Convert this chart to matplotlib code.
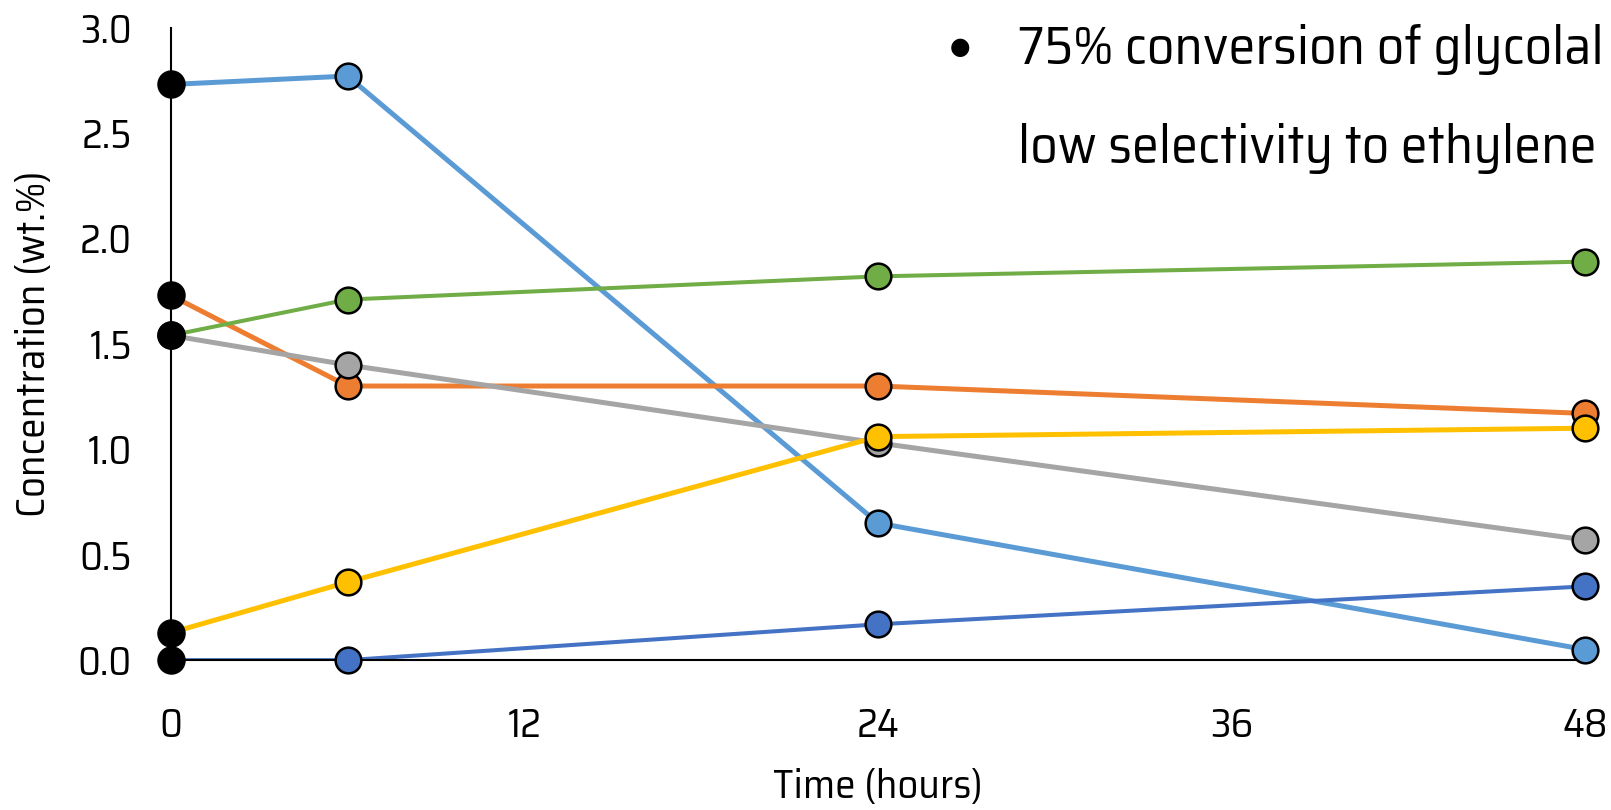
import matplotlib
matplotlib.use("Agg")
import matplotlib.pyplot as plt

plt.rcParams['font.family'] = ['Saira SemiCondensed', 'DejaVu Sans']

hours = [0, 6, 24, 48]

# concentrations (wt.%), Excel series order
light_blue = [2.73, 2.77, 0.65, 0.05]
orange = [1.73, 1.30, 1.30, 1.17]
gray = [1.54, 1.40, 1.03, 0.57]
yellow = [0.13, 0.37, 1.06, 1.10]
dark_blue = [0.0, 0.0, 0.17, 0.35]
green = [1.54, 1.71, 1.82, 1.89]

series = [light_blue, orange, gray, yellow, dark_blue, green]
colors = ["#5B9BD5", "#ED7D31", "#A5A5A5", "#FFC000", "#4472C4", "#70AD47"]
widths = [3.6, 3.6, 3.6, 3.6, 2.9, 2.9]

xticks = [0, 12, 24, 36, 48]
yticks = [0.0, 0.5, 1.0, 1.5, 2.0, 2.5, 3.0]

fig = plt.figure(figsize=(16.11, 8.10), dpi=100)
ax = fig.add_axes([0.106, 0.185, 0.878, 0.781])

for vals, c, w in zip(series, colors, widths):
    ax.plot(hours, vals, color=c, lw=w, solid_capstyle='butt', zorder=2)
    ax.plot(hours[1:], vals[1:], 'o', ms=18.5, mfc=c, mec='black', mew=1.8,
            clip_on=False, zorder=3)

for vals in series:
    ax.plot(hours[:1], vals[:1], 'o', ms=19.5, color='black', clip_on=False, zorder=4)

ax.set_xlim(0, 48)
ax.set_ylim(0, 3.0)
ax.set_xticks(xticks)
ax.set_xticklabels([str(t) for t in xticks])
ax.set_yticks(yticks)
ax.set_yticklabels(["%.1f" % v for v in yticks])
ax.tick_params(length=0, labelsize=28.5)
ax.tick_params(axis='x', pad=34)
ax.tick_params(axis='y', pad=28)

for s in ['top', 'right']:
    ax.spines[s].set_visible(False)
ax.spines['left'].set_position(('data', 0))
ax.spines['left'].set_linewidth(1.5)
ax.spines['bottom'].set_linewidth(1.5)

ax.set_xlabel("Time (hours)", fontsize=29.5, labelpad=16)
ax.set_ylabel("Concentration (wt.%)", fontsize=29.5, labelpad=18)

ax.text(0.551, 0.970, "\u25CF", transform=ax.transAxes, fontsize=17,
        family='DejaVu Sans', ha='left', va='center')
ax.text(0.599, 1.005, "75% conversion of glycolal\nlow selectivity to ethylene",
        transform=ax.transAxes, fontsize=39, ha='left', va='top', linespacing=2.2)

fig.savefig("out.png", dpi=100)
